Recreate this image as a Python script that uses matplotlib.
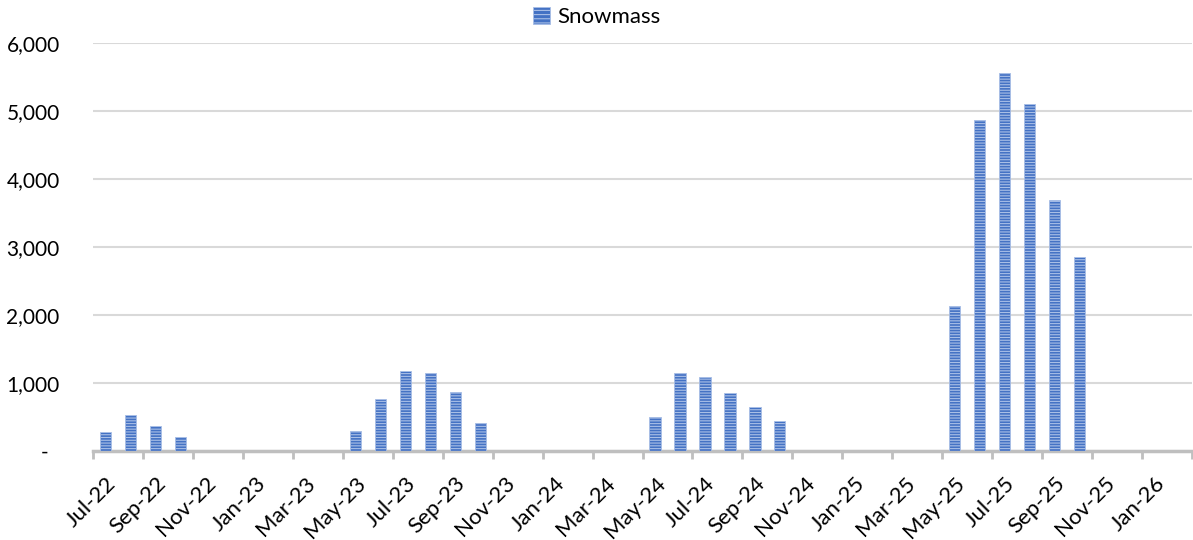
import matplotlib.pyplot as plt
import pandas as pd
from matplotlib.ticker import FixedLocator
from matplotlib.patches import Rectangle

plt.rcParams['font.family'] = ['Lato', 'DejaVu Sans']
plt.rcParams['hatch.linewidth'] = 0.8

# monthly categories Jul-22 .. Feb-26
months = pd.date_range('2022-07-01', periods=44, freq='MS')
month_labels = [m.strftime('%b-%y') for m in months]

snowmass = [280, 530, 375, 200, 0, 0, 0, 0, 0, 0,
            290, 765, 1175, 1155, 870, 415, 0, 0, 0, 0, 0, 0,
            495, 1145, 1095, 860, 645, 440, 0, 0, 0, 0, 0, 0,
            2130, 4870, 5560, 5110, 3690, 2850, 0, 0, 0, 0]

y_ticks = [0, 1000, 2000, 3000, 4000, 5000, 6000]
y_labels = ['-  ', '1,000', '2,000', '3,000', '4,000', '5,000', '6,000']

fig = plt.figure(figsize=(11.93, 5.4), dpi=100)
ax = fig.add_axes([93 / 1193, 89 / 540, 1099 / 1193, 407.5 / 540])

x = list(range(len(snowmass)))
ax.bar(x, snowmass, width=0.45, color='#4472c4', hatch='------',
       edgecolor='#a9bfe6', linewidth=0.6, zorder=3)

ax.set_xlim(-0.5, len(snowmass) - 0.5)
ax.set_ylim(0, 6000)
ax.set_yticks(y_ticks)
ax.set_yticklabels(y_labels)
ax.tick_params(axis='y', length=0, pad=24, labelsize=15)
ax.grid(axis='y', color='#d9d9d9', linewidth=1.5, zorder=0)

# labels at every other month centre, tick marks at the category boundaries
ax.set_xticks(x[::2])
ax.set_xticklabels(month_labels[::2], rotation=45, ha='right',
                   rotation_mode='anchor', fontsize=16)
ax.tick_params(axis='x', length=0, pad=16)
ax.xaxis.set_minor_locator(FixedLocator([i - 0.5 for i in range(0, len(snowmass) + 1, 2)]))
ax.tick_params(axis='x', which='minor', length=6, width=2, color='#bfbfbf')

for s in ['top', 'right', 'left']:
    ax.spines[s].set_visible(False)
ax.spines['bottom'].set_color('#bfbfbf')
ax.spines['bottom'].set_linewidth(2.5)

handle = Rectangle((0, 0), 1, 1, facecolor='#4472c4', hatch='----',
                   edgecolor='#a9bfe6', linewidth=0.6)
fig.legend([handle], ['Snowmass'], loc='upper center', bbox_to_anchor=(0.5, 1.025),
           frameon=False, fontsize=16, handlelength=0.8, handleheight=0.8,
           handletextpad=0.3)

fig.savefig('out.png', dpi=100)
